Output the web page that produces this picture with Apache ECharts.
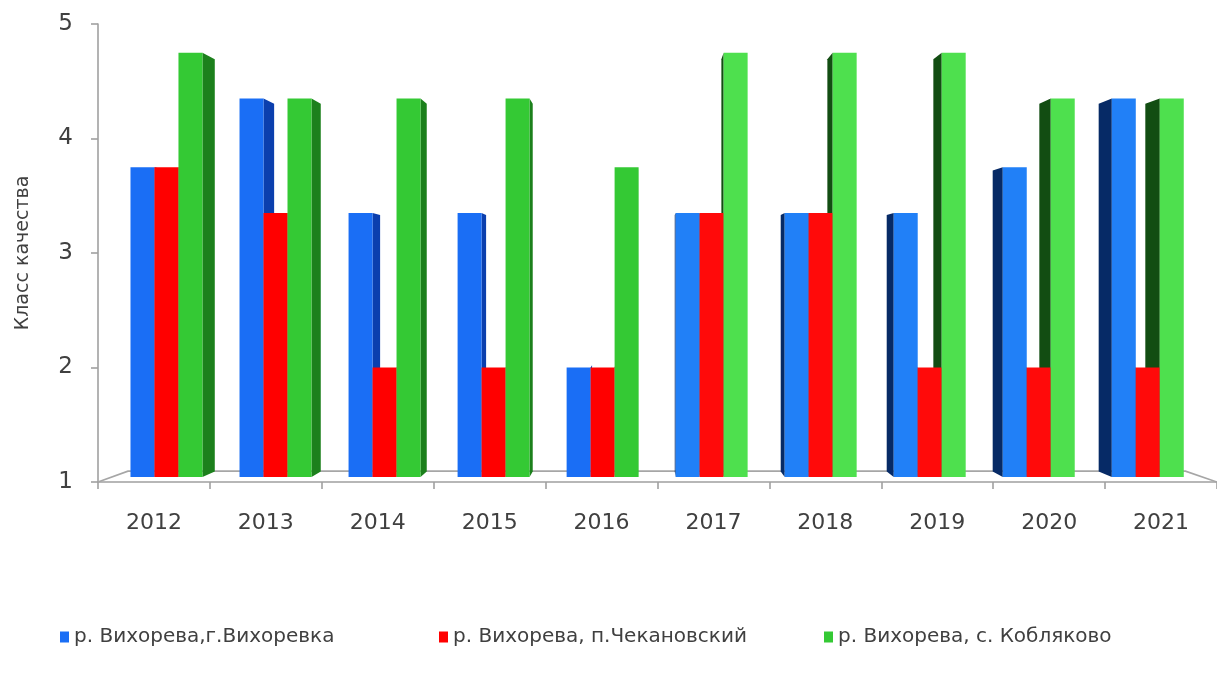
<!DOCTYPE html>
<html>
<head>
<meta charset="utf-8">
<script src="https://cdn.jsdelivr.net/npm/echarts@6/dist/echarts.min.js"></script>
<style>
  html, body { margin: 0; padding: 0; background: #ffffff; }
  #chart { width: 1217px; height: 680px; }
</style>
</head>
<body>
<div id="chart"></div>
<script>
// Класс качества воды р. Вихорева по створам, 2012–2021
const years = ['2012', '2013', '2014', '2015', '2016', '2017', '2018', '2019', '2020', '2021'];
const siteNames = ['р. Вихорева,г.Вихоревка', 'р. Вихорева, п.Чекановский', 'р. Вихорева, с. Кобляково'];
const vikhorevka = [3.75, 4.35, 3.35, 3.35, 2.0, 3.35, 3.35, 3.35, 3.75, 4.35];
const chekanovsky = [3.75, 3.35, 2.0, 2.0, 2.0, 3.35, 3.35, 2.0, 2.0, 2.0];
const koblyakovo = [4.75, 4.35, 4.35, 4.35, 3.75, 4.75, 4.75, 4.75, 4.35, 4.35];
const yTicks = { min: 1, max: 5, step: 1 };
const yAxisTitle = 'Класс качества';

// palette: front face / side face seen from the left / side face seen from the right
const palette = [
  { frontL: '#1a6ef5', frontR: '#2180f7', sideL: '#0b3fae', sideR: '#062a66' },
  { frontL: '#ff0000', frontR: '#ff0a0a', sideL: '#a80000', sideR: '#7a0000' },
  { frontL: '#34c934', frontR: '#4ee04e', sideL: '#1c801c', sideR: '#124d12' }
];

// simple perspective: points recede toward a vanishing point inside the plot
const DEPTH_FRONT = 0.0256;  // bar front plane behind the axis line
const DEPTH_SIDE = 0.028;    // bar depth
const DEPTH_FLOOR = 0.055;   // floor depth
function vanish(cs) {
  return [cs.x + cs.width * 0.487, cs.y + cs.height * 0.57];
}
function recede(p, v, t) {
  return [p[0] + t * (v[0] - p[0]), p[1] + t * (v[1] - p[1])];
}

function barRenderer(s) {
  return function (params, api) {
    const cs = params.coordSys;
    const V = vanish(cs);
    const i = api.value(0);
    const val = api.value(1);
    const top = api.coord([i, val]);
    const base = api.coord([i, yTicks.min]);
    const band = api.size([1, 0])[0];
    const gx = top[0] + DEPTH_FRONT * (V[0] - top[0]);
    const bw = band * (1 - DEPTH_FRONT) * 0.22;
    const x0 = gx + (s - 1.5) * bw;
    const x1 = x0 + bw;
    const yTop = top[1];
    const yBot = base[1] + DEPTH_FRONT * (V[1] - base[1]);
    const leftHalf = gx < V[0];
    const c = palette[s];
    const edge = leftHalf ? x1 : x0;
    const bt = recede([edge, yTop], V, DEPTH_SIDE);
    const bb = recede([edge, yBot], V, DEPTH_SIDE);
    return {
      type: 'group',
      children: [
        {
          type: 'polygon',
          z2: 1,
          shape: { points: [[edge, yTop], bt, bb, [edge, yBot]] },
          style: { fill: leftHalf ? c.sideL : c.sideR }
        },
        {
          type: 'rect',
          z2: 20,
          shape: { x: x0, y: yTop, width: bw, height: yBot - yTop },
          style: { fill: leftHalf ? c.frontL : c.frontR }
        }
      ]
    };
  };
}

function floorRenderer(params, api) {
  const cs = params.coordSys;
  const V = vanish(cs);
  const fl = [cs.x, cs.y + cs.height];
  const fr = [cs.x + cs.width, cs.y + cs.height];
  const bl = recede(fl, V, DEPTH_FLOOR);
  const br = recede(fr, V, DEPTH_FLOOR);
  return {
    type: 'polyline',
    z2: 0,
    shape: { points: [fl, bl, br, fr] },
    style: { stroke: '#a6a6a6', lineWidth: 1.6, fill: null }
  };
}

const siteValues = [vikhorevka, chekanovsky, koblyakovo];
const series = siteValues.map(function (vals, s) {
  return {
    type: 'custom',
    name: siteNames[s],
    renderItem: barRenderer(s),
    itemStyle: { color: palette[s].frontL },
    encode: { x: 0, y: 1 },
    data: vals.map(function (v, i) { return [i, v]; })
  };
});
series.unshift({
  type: 'custom',
  name: 'floor',
  silent: true,
  renderItem: floorRenderer,
  data: [[0, yTicks.min]]
});

const axisColor = '#a0a0a0';
const textColor = '#404040';
const font = 'DejaVu Sans';

const legendLefts = [55, 434, 819];
const legends = siteNames.map(function (n, s) {
  return {
    data: [n],
    left: legendLefts[s],
    top: 622,
    icon: 'rect',
    itemWidth: 9,
    itemHeight: 11,
    itemGap: 6,
    textStyle: { fontFamily: font, fontSize: 20, color: textColor }
  };
});

const option = {
  animation: false,
  backgroundColor: '#ffffff',
  grid: { left: 98, right: -8, top: 24, bottom: 198, containLabel: false },
  legend: legends,
  xAxis: {
    type: 'category',
    data: years,
    boundaryGap: true,
    axisLine: { lineStyle: { color: axisColor, width: 1.6 } },
    axisTick: { show: true, length: 7, lineStyle: { color: axisColor, width: 1.6 } },
    axisLabel: { fontFamily: font, fontSize: 22, color: textColor, margin: 30 },
    splitLine: { show: false }
  },
  yAxis: {
    type: 'value',
    min: yTicks.min,
    max: yTicks.max,
    interval: yTicks.step,
    name: yAxisTitle,
    nameLocation: 'middle',
    nameGap: 65,
    nameTextStyle: { fontFamily: font, fontSize: 19, color: textColor },
    axisLine: { show: true, lineStyle: { color: axisColor, width: 1.6 } },
    axisTick: { show: true, length: 7, lineStyle: { color: axisColor, width: 1.6 } },
    axisLabel: { fontFamily: font, fontSize: 23, color: textColor, margin: 25 },
    splitLine: { show: false }
  },
  series: series
};

const chart = echarts.init(document.getElementById('chart'), null, { renderer: 'canvas' });
chart.setOption(option);
</script>
</body>
</html>
